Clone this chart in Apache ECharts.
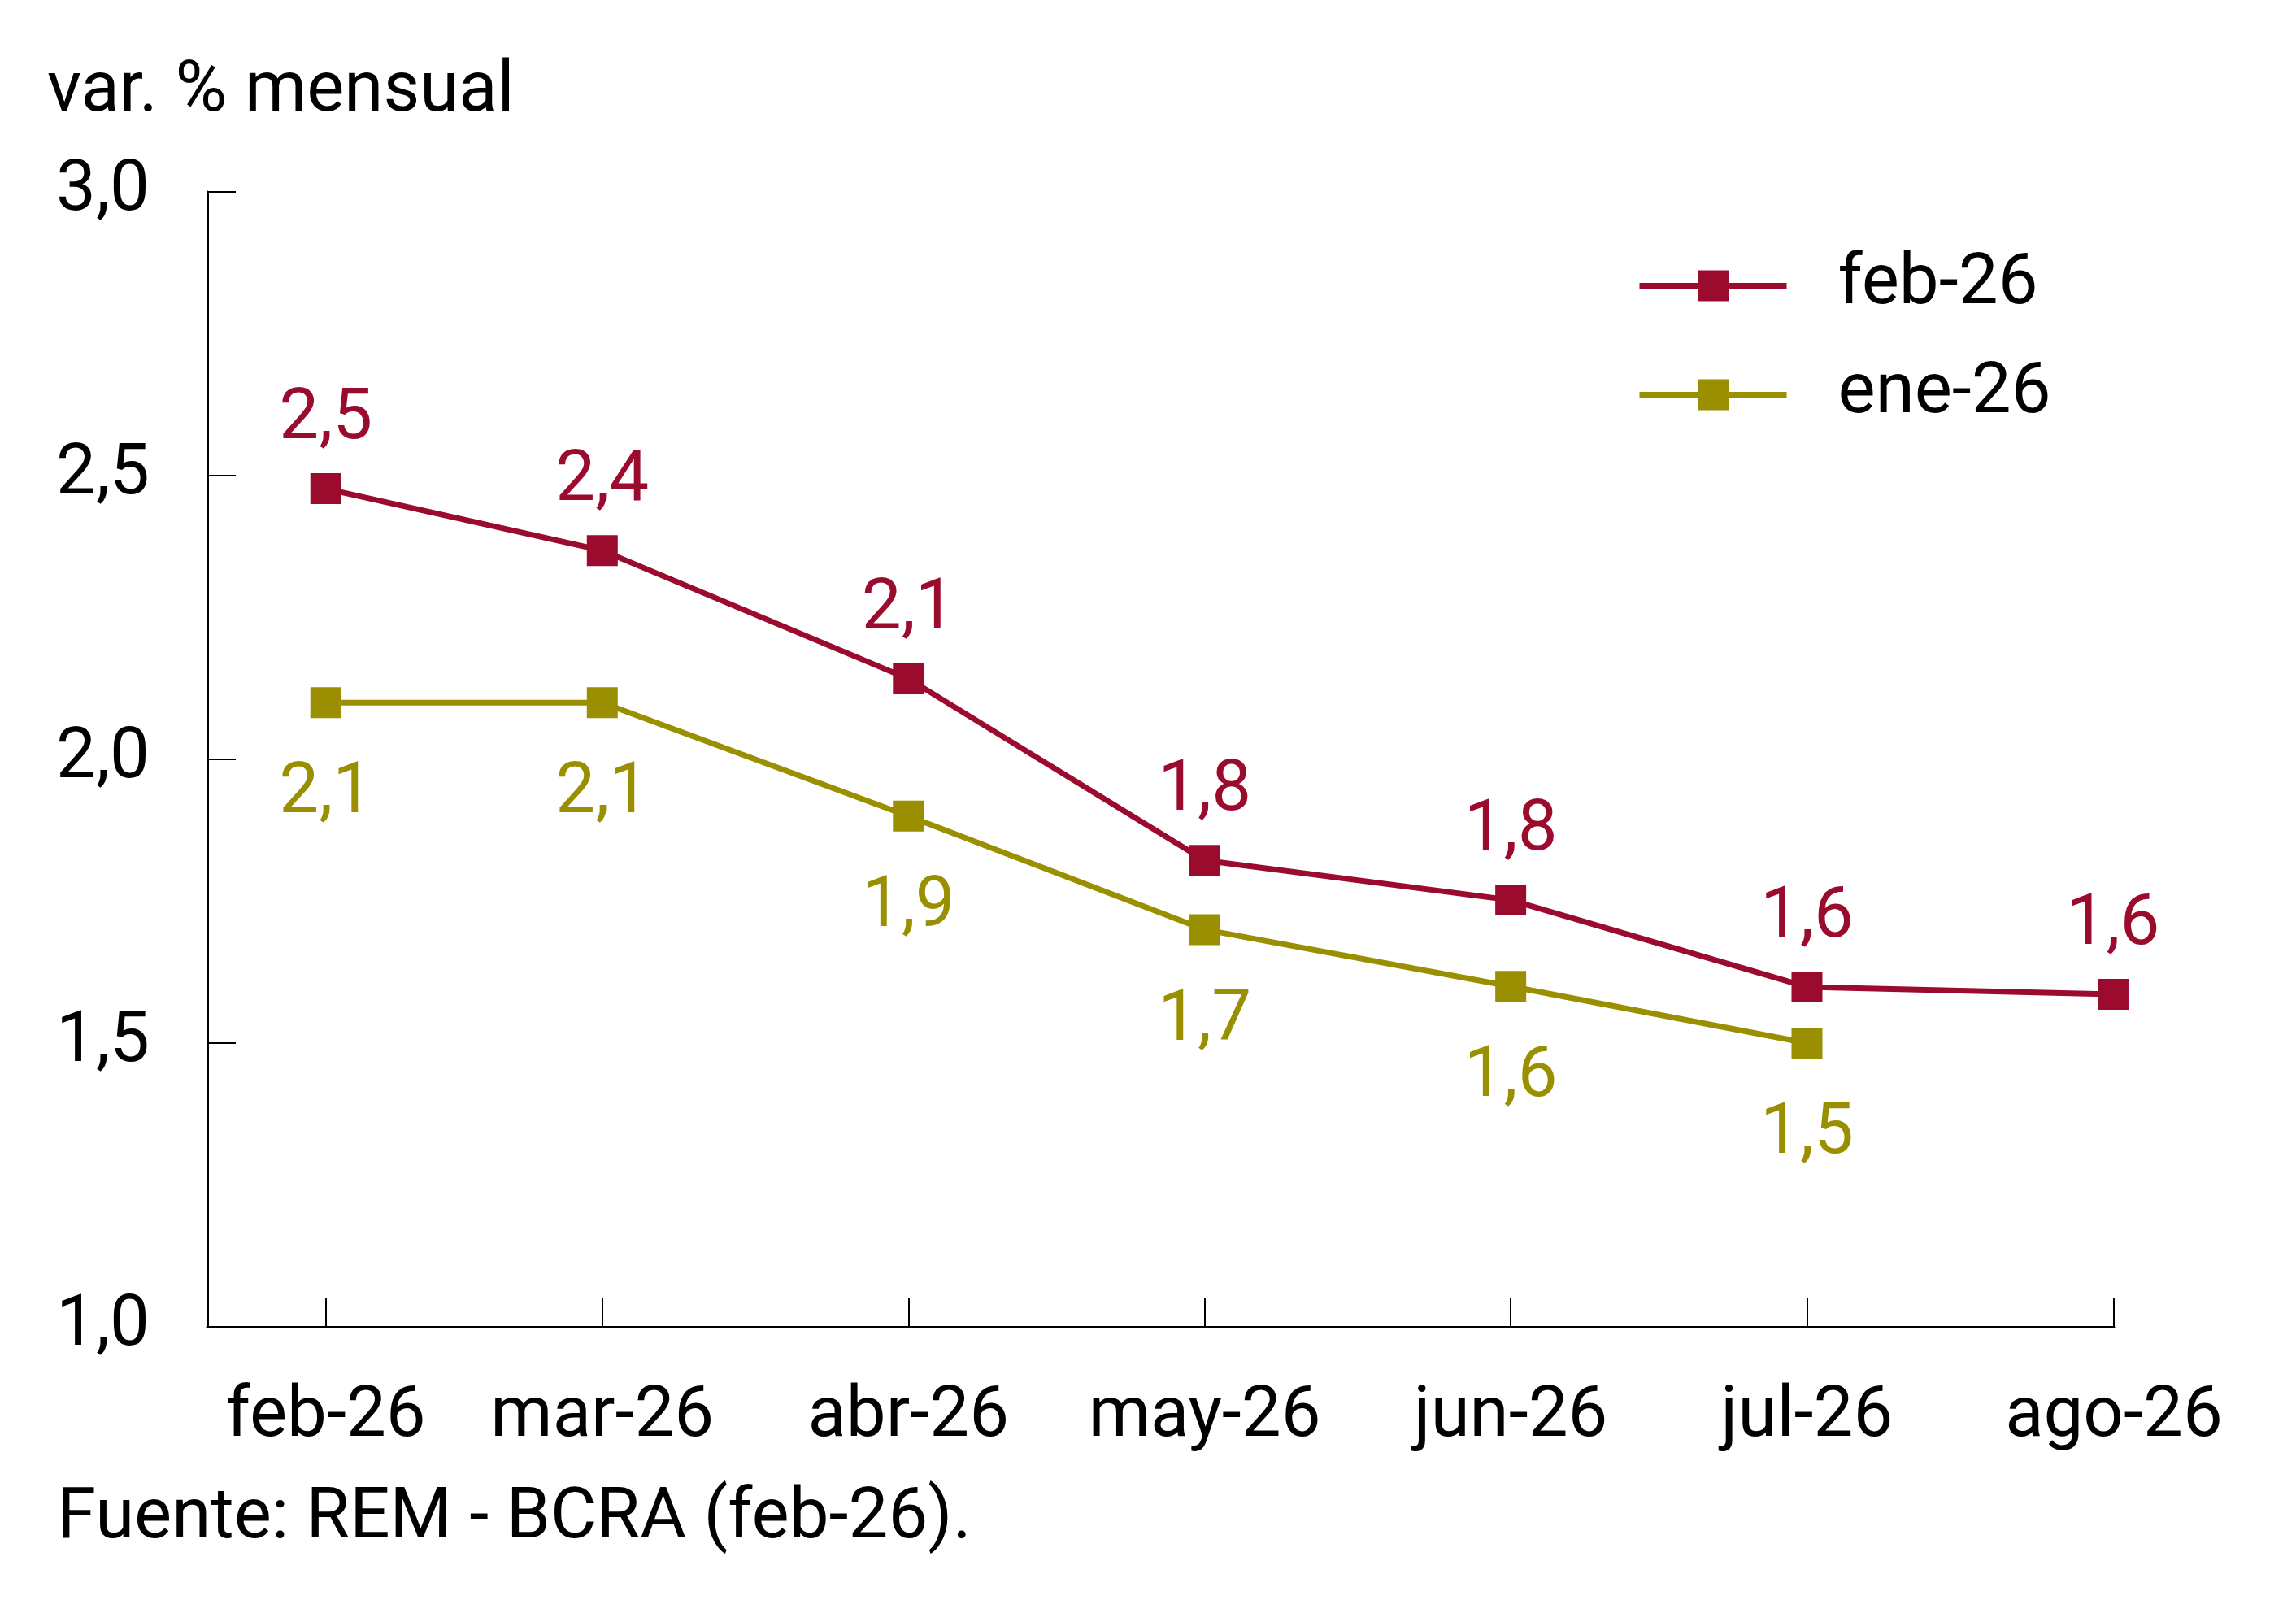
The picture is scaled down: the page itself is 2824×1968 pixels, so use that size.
<!DOCTYPE html>
<html>
<head>
<meta charset="utf-8">
<script src="https://cdn.jsdelivr.net/npm/echarts@6/dist/echarts.min.js"></script>
<style>
html,body{margin:0;padding:0;background:#fff;}
#c{width:2824px;height:1968px;}
</style>
</head>
<body>
<div id="c"></div>
<script>
const months = ['2026-02-01','2026-03-01','2026-04-01','2026-05-01','2026-06-01','2026-07-01','2026-08-01'];
const monthLabels = ['feb-26','mar-26','abr-26','may-26','jun-26','jul-26','ago-26'];
const seriesNames = ['feb-26','ene-26'];
const febValues = [2.477, 2.368, 2.142, 1.822, 1.752, 1.599, 1.586];
const eneValues = [2.10, 2.10, 1.90, 1.70, 1.60, 1.50];
const yTicks = [1.0, 1.5, 2.0, 2.5, 3.0];
const titleText = 'var. % mensual';
const sourceText = 'Fuente: REM - BCRA (feb-26).';

const RED = '#9a0b2e';
const OLIVE = '#998f00';
const FONT = 'Roboto';
const FS = 87;

function toTs(s){ const p = s.split('-').map(Number); return new Date(p[0], p[1]-1, p[2]).getTime(); }
const monthTs = months.map(toTs);
const fmt = v => v.toFixed(1).replace('.', ',');
const DAY = 86400000;

const chart = echarts.init(document.getElementById('c'), null, {renderer:'canvas', devicePixelRatio:1});
chart.setOption({
  animation:false,
  backgroundColor:'#fff',
  title:[
    {text:titleText, left:58, top:71, padding:0,
     textStyle:{fontFamily:FONT, fontSize:FS, fontWeight:'normal', color:'#000', lineHeight:FS}},
    {text:sourceText, left:70, top:1826, padding:0,
     textStyle:{fontFamily:FONT, fontSize:FS, fontWeight:'normal', color:'#000', lineHeight:FS}}
  ],
  legend:{
    orient:'vertical', left:2013, top:308, padding:0,
    itemWidth:181, itemHeight:47.5, itemGap:47,
    data:seriesNames,
    lineStyle:{width:7},
    formatter: name => '{s| }{t|' + name + '}',
    textStyle:{
      fontFamily:FONT, fontSize:FS, color:'#000',
      rich:{ s:{width:58, fontSize:FS}, t:{fontFamily:FONT, fontSize:FS, color:'#000'} }
    }
  },
  grid:{left:255, right:224, top:236, bottom:336, containLabel:false},
  xAxis:{
    type:'time',
    min:new Date(2026,0,20).getTime(),
    max:monthTs[monthTs.length-1] + 2*3600000,
    minInterval:28*DAY, maxInterval:31*DAY,
    axisLine:{show:true, lineStyle:{color:'#000', width:3}},
    axisTick:{show:true, inside:true, length:35, lineStyle:{color:'#000', width:2}},
    axisLabel:{
      margin:69, showMinLabel:false, showMaxLabel:true,
      fontFamily:FONT, fontSize:FS, color:'#000', lineHeight:FS,
      formatter: function(v){ let best=-1, bd=Infinity; monthTs.forEach((t,i)=>{const d=Math.abs(t-v); if(d<bd){bd=d;best=i;}}); return bd < 3*DAY ? monthLabels[best] : ''; }
    },
    splitLine:{show:false}
  },
  yAxis:{
    type:'value', min:yTicks[0], max:yTicks[yTicks.length-1], interval:0.5,
    axisLine:{show:true, lineStyle:{color:'#000', width:3}},
    axisTick:{show:true, inside:true, length:35, lineStyle:{color:'#000', width:2}},
    axisLabel:{margin:71, fontFamily:FONT, fontSize:FS, color:'#000', lineHeight:FS, padding:[18,0,0,0], formatter: v => fmt(v)},
    splitLine:{show:false}
  },
  series:[
    {
      name:seriesNames[0], type:'line',
      data:months.map((m,i)=>[m, febValues[i]]),
      symbol:'rect', symbolSize:38,
      lineStyle:{color:RED, width:7},
      itemStyle:{color:RED},
      label:{show:true, position:'top', distance:21, fontFamily:FONT, fontSize:FS, color:RED, lineHeight:FS,
        formatter: p => fmt(p.value[1])},
      z:3
    },
    {
      name:seriesNames[1], type:'line',
      data:eneValues.map((v,i)=>[months[i], v]),
      symbol:'rect', symbolSize:38,
      lineStyle:{color:OLIVE, width:7},
      itemStyle:{color:OLIVE},
      label:{show:true, position:'bottom', distance:51, fontFamily:FONT, fontSize:FS, color:OLIVE, lineHeight:FS,
        formatter: p => fmt(p.value[1])},
      z:2
    }
  ]
});
</script>
</body>
</html>
